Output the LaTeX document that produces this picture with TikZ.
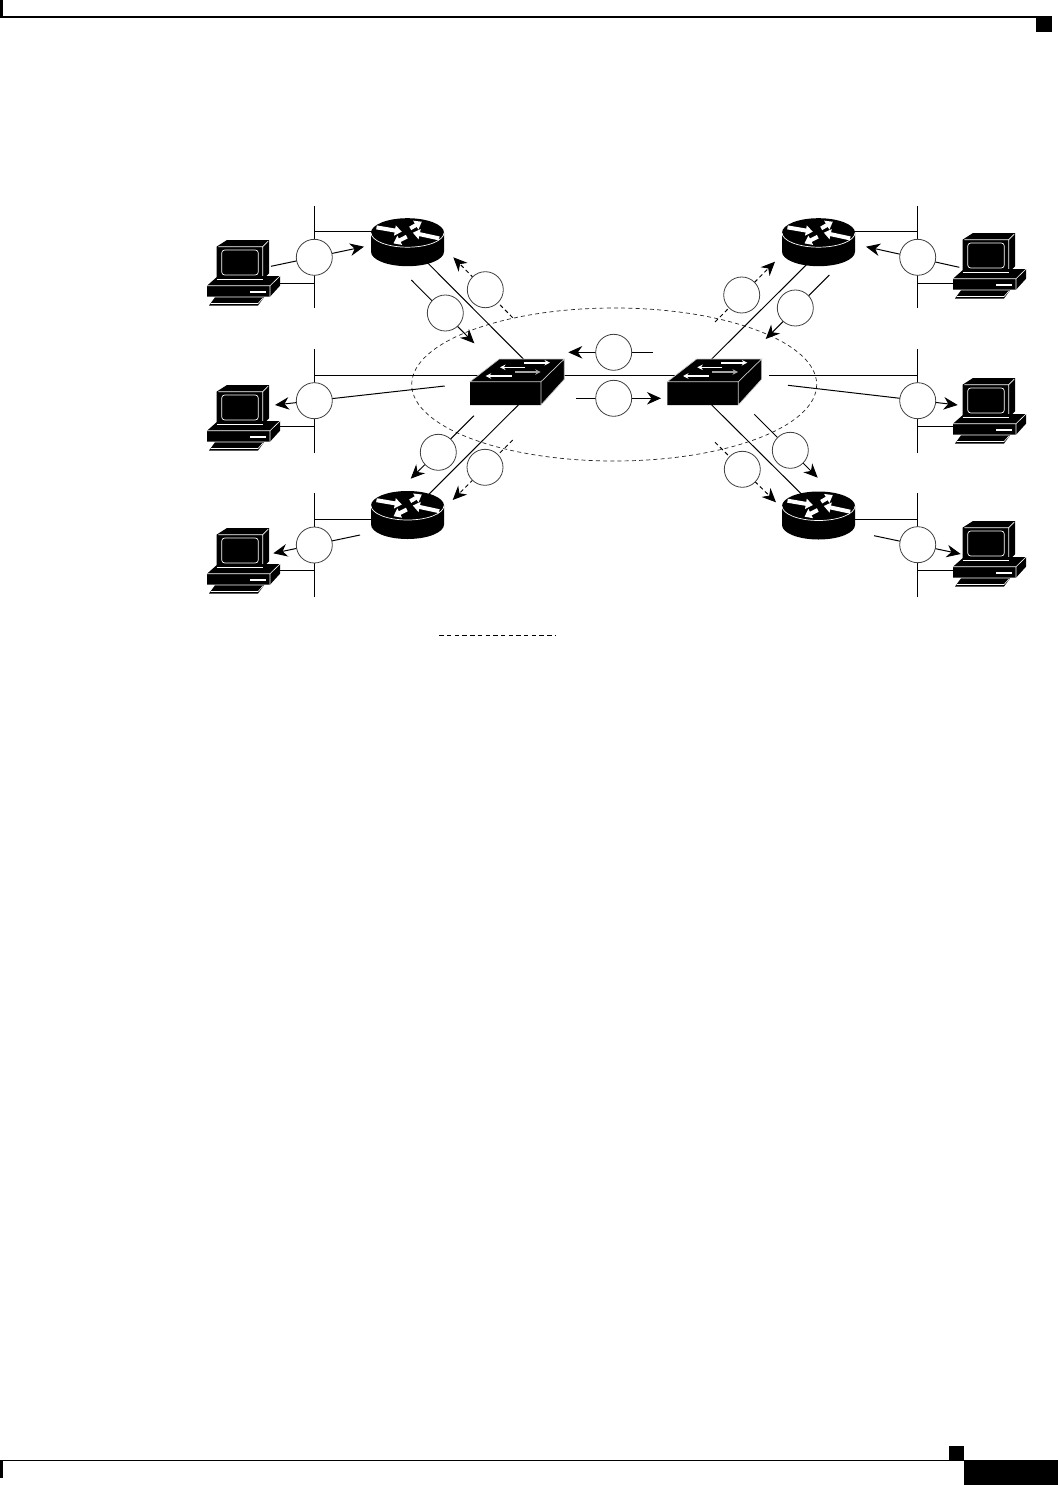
\documentclass[tikz,border=0pt]{standalone}
\usetikzlibrary{arrows.meta}
\tikzset{
  x=1pt,y=-1pt,
  wire/.style={black,line width=1pt},
  flow/.style={black,line width=1pt,-{Stealth[length=14pt,width=12.5pt,inset=4.5pt]}},
  dflow/.style={flow,dash pattern=on 4pt off 3pt},
  bub/.style={circle,draw=black!75,fill=white,line width=0.8pt,minimum size=36pt,inner sep=0pt},
  ring/.style={black!85,line width=0.7pt,dash pattern=on 4pt off 3.2pt},
  whitearrow/.style={white,line width=1.6pt,-{Stealth[length=5.5pt,width=5.5pt]}},
  fatarrow/.style={white,line width=4pt,-{Stealth[length=7pt,width=10pt,inset=0pt]}},
  pcpic/.pic={
    \fill[black] (9.5,5.7) -- (20,-1) -- (62,-1) -- (62,32.3) -- (55.7,39) -- (9.5,39) -- cycle;
    \draw[white,line width=0.6pt] (11.3,5.7) -- (55.7,5.7) -- (61.3,0) (55.7,5.7) -- (55.7,38);
    \draw[white,line width=0.7pt,rounded corners=3pt] (14.7,9) rectangle (51.3,34);
    \fill[black] (0,44.7) -- (11,35) -- (73,35) -- (73,44.7) -- (63,55.7) -- (0,55.7) -- cycle;
    \draw[white,line width=0.6pt] (9.5,38) -- (55.7,38);
    \draw[white,line width=0.6pt] (0,44.7) -- (63,44.7) -- (73,35) (63,44.7) -- (63,55.7);
    \fill[white] (43,49.5) rectangle (59,51.5);
    \fill[black] (2,64.5) -- (8,56.3) -- (57,56.3) -- (51,64.5) -- cycle;
    \draw[white,line width=0.6pt] (3.5,62.5) -- (51,62.5) -- (56,57);
  },
  routerpic/.pic={
    \fill[black] (-36.5,0) .. controls (-36.5,-8) and (-20.2,-14.5) .. (0,-14.5)
      .. controls (20.2,-14.5) and (36.5,-8) .. (36.5,0) -- (36.5,19)
      .. controls (36.5,27) and (20.2,33.5) .. (0,33.5)
      .. controls (-20.2,33.5) and (-36.5,27) .. (-36.5,19) -- cycle;
    \draw[white,line width=0.7pt] (-36.5,0) .. controls (-36.5,8) and (-20.2,14.5) .. (0,14.5)
      .. controls (20.2,14.5) and (36.5,8) .. (36.5,0);
    \draw[fatarrow] (-31,-5.3) -- (-5.7,-1);
    \draw[fatarrow] (2.7,-4.3) -- (14.3,-11);
    \draw[fatarrow] (31.7,5.7) -- (5.3,0);
    \draw[fatarrow] (-0.7,4) -- (-14,10.7);
  },
  switchpic/.pic={
    \fill[black] (0,0) -- (29.3,-22.7) -- (94.3,-22.7) -- (94.3,-2.4) -- (71,23.3) -- (0,23.3) -- cycle;
    \draw[white!80!black,line width=0.7pt] (0,0) -- (29.3,-22.7) -- (94.3,-22.7) -- (71,0) -- cycle (71,0) -- (71,23.3) (94.3,-22.7) -- (94.3,-2.4) -- (71,23.3);
    \draw[whitearrow] (54,-19) -- (80,-19);
    \draw[whitearrow] (55,-14.4) -- (30,-14.4);
    \draw[whitearrow,white!65!black] (45,-9.7) -- (70.7,-9.7);
    \draw[whitearrow] (41.7,-5.7) -- (15.7,-5.7);
  }
}
\begin{document}
\begin{tikzpicture}
\useasboundingbox (0,0) rectangle (1058,1485);
% page furniture
\fill[white] (0,0) rectangle (1058,1485);
\fill[black] (0,0) rectangle (3,17);
\fill[black] (0,16) rectangle (1052,18);
\fill[black] (1036,18) rectangle (1052,32);
\fill[black] (0,1460) rectangle (3,1478);
\fill[black] (0,1459.5) rectangle (964,1461);
\fill[black] (949,1446) rectangle (964,1460);
\fill[black] (964,1460) rectangle (1058,1485);
% ring
\node[draw=none,minimum size=0pt,inner sep=0pt] (ringc) at (614.2,384.5) {};
\draw[ring] (ringc) ellipse[x radius=202.5,y radius=76.5];
% legend
\coordinate (legA) at (439.3,635); \coordinate (legB) at (555,635);
\draw[wire,dash pattern=on 4.4pt off 3.3pt] (legA) -- (legB);
% LAN segments
\coordinate (lanTLa) at (314.3,206); \coordinate (lanTLb) at (314.3,308);
\coordinate (lanMLa) at (314.3,349); \coordinate (lanMLb) at (314.3,452.7);
\coordinate (lanBLa) at (314.3,493); \coordinate (lanBLb) at (314.3,596.7);
\coordinate (lanTRa) at (917.7,206); \coordinate (lanTRb) at (917.7,308);
\coordinate (lanMRa) at (917.7,349); \coordinate (lanMRb) at (917.7,452.7);
\coordinate (lanBRa) at (917.7,493); \coordinate (lanBRb) at (917.7,596.7);
\foreach \n in {TL,ML,BL,TR,MR,BR} \draw[wire] (lan\n a) -- (lan\n b);
% nodes anchors
\coordinate (rTL) at (407.5,232.7); \coordinate (rTR) at (818.5,232.7);
\coordinate (rBL) at (407.5,505.5); \coordinate (rBR) at (818.5,506);
\coordinate (sL) at (470,381.7); \coordinate (sR) at (667.3,381.7);
% horizontal links
\draw[wire] (314.3,231) -- (rTL |- 0,231);
\draw[wire] (314.3,283.3) -- (275,283.3);
\draw[wire] (314.3,375.3) -- (480,375.3);
\draw[wire] (314.3,426.5) -- (275,426.5);
\draw[wire] (314.3,519) -- (rBL |- 0,519);
\draw[wire] (314.3,570.3) -- (275,570.3);
\draw[wire] (917.7,231) -- (rTR |- 0,231);
\draw[wire] (917.7,283.3) -- (960,283.3);
\draw[wire] (917.7,375.3) -- (769,375.3);
\draw[wire] (917.7,426.5) -- (960,426.5);
\draw[wire] (917.7,519) -- (rBR |- 0,519);
\draw[wire] (917.7,570.3) -- (960,570.3);
\draw[wire] (sL) ++(90,-6.7) -- (680,375);
% router-switch links
\draw[wire] (rTL) ++(10,20) -- (523.3,359);
\draw[wire] (rTR) ++(-5,25) -- (711.7,359);
\draw[wire] (rBL) ++(10,0) -- (518.3,405);
\draw[wire] (rBR) ++(-10,-5) -- (711.7,405);
% devices
\path (rTL) pic {routerpic}; \path (rTR) pic {routerpic};
\path (rBL) pic {routerpic}; \path (rBR) pic {routerpic};
\path (sL) pic {switchpic}; \path (sR) pic {switchpic};
\path (207,241) pic {pcpic}; \path (207,386) pic {pcpic}; \path (207,529) pic {pcpic};
\path (953,234) pic {pcpic}; \path (953,379) pic {pcpic}; \path (953,522) pic {pcpic};
% flows
\coordinate (f1a) at (271,266.3); \coordinate (f1b) at (364,246.7);
\coordinate (f2a) at (411.3,280); \coordinate (f2b) at (474.3,343.3);
\coordinate (f3a) at (512.7,317.7); \coordinate (f3b) at (453.3,257.3);
\coordinate (f4a) at (444.7,386); \coordinate (f4b) at (275,405);
\coordinate (f5a) at (652.7,352.3); \coordinate (f5b) at (568.3,352.3);
\coordinate (f6a) at (576,398.3); \coordinate (f6b) at (661,398.3);
\coordinate (f7a) at (474,415.7); \coordinate (f7b) at (410.7,478.7);
\coordinate (f8a) at (512.7,440); \coordinate (f8b) at (452.7,500);
\coordinate (f9a) at (360,535); \coordinate (f9b) at (273.3,553.3);
\coordinate (f10a) at (715,322); \coordinate (f10b) at (775,261.7);
\coordinate (f11a) at (829.3,275); \coordinate (f11b) at (765.7,339);
\coordinate (f12a) at (959.3,267.3); \coordinate (f12b) at (866,246.7);
\coordinate (f13a) at (788,385.3); \coordinate (f13b) at (957.7,405);
\coordinate (f14a) at (715,442.3); \coordinate (f14b) at (776,502.3);
\coordinate (f15a) at (754.3,414.3); \coordinate (f15b) at (817.7,477.7);
\coordinate (f16a) at (874,535.7); \coordinate (f16b) at (960.7,554);
\foreach \i in {1,2,4,5,6,7,9,11,12,13,15,16} \draw[flow] (f\i a) -- (f\i b);
\foreach \i in {3,8,10,14} \draw[dflow] (f\i a) -- (f\i b);
% bubbles
\node[bub] (c1) at (314.3,257.3) {};
\node[bub] (c2) at (445.3,313) {};
\node[bub] (c3) at (485.3,289.7) {};
\node[bub] (c4) at (314.3,400.7) {};
\node[bub] (c5) at (613.7,352.3) {};
\node[bub] (c6) at (613.7,398.3) {};
\node[bub] (c7) at (438.3,452.3) {};
\node[bub] (c8) at (485,467.3) {};
\node[bub] (c9) at (314.3,545) {};
\node[bub] (c10) at (741.7,295) {};
\node[bub] (c11) at (795.3,308) {};
\node[bub] (c12) at (917.7,257.3) {};
\node[bub] (c13) at (917.7,400.7) {};
\node[bub] (c14) at (742.3,469.3) {};
\node[bub] (c15) at (790.3,450.3) {};
\node[bub] (c16) at (917.7,544.7) {};
\end{tikzpicture}
\end{document}
